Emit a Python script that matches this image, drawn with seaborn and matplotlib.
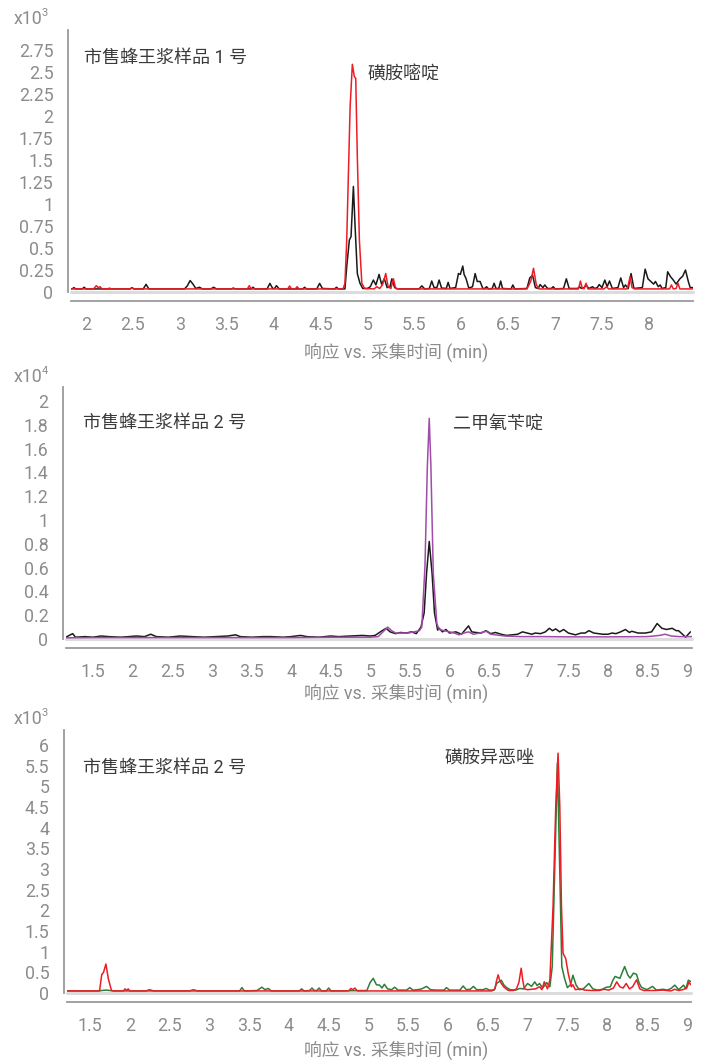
import matplotlib
matplotlib.use("Agg")
import matplotlib.pyplot as plt
import seaborn as sns
import pandas as pd

# ---- Panel 1: 磺胺嘧啶, intensity in 10^3 counts ----
p1_black = [(1.84, 0.035), (1.86, 0.04), (1.871, 0.05), (1.89, 0.035), (1.96, 0.035), (1.98, 0.054), (2.0, 0.035),
            (2.47, 0.035), (2.49, 0.05), (2.51, 0.035), (2.61, 0.035), (2.64, 0.087), (2.67, 0.035), (3.05, 0.035),
            (3.08, 0.07), (3.11, 0.13), (3.14, 0.09), (3.17, 0.04), (3.21, 0.054), (3.24, 0.035), (3.33, 0.035),
            (3.36, 0.054), (3.39, 0.035), (3.55, 0.035), (3.57, 0.045), (3.59, 0.035), (3.76, 0.035), (3.78, 0.054),
            (3.80, 0.035), (3.93, 0.035), (3.96, 0.098), (3.99, 0.04), (4.01, 0.04), (4.03, 0.072), (4.06, 0.035),
            (4.31, 0.035), (4.33, 0.054), (4.35, 0.035), (4.46, 0.035), (4.49, 0.098), (4.52, 0.04), (4.65, 0.035),
            (4.67, 0.054), (4.69, 0.035), (4.76, 0.035), (4.78, 0.30), (4.807, 0.59), (4.825, 0.63), (4.85, 1.2),
            (4.868, 0.75), (4.892, 0.21), (4.92, 0.10), (4.95, 0.04), (5.0, 0.04), (5.03, 0.06), (5.063, 0.136),
            (5.09, 0.08), (5.124, 0.2), (5.15, 0.09), (5.18, 0.15), (5.21, 0.05), (5.24, 0.06), (5.26, 0.15),
            (5.29, 0.05), (5.32, 0.035), (5.55, 0.035), (5.58, 0.07), (5.61, 0.035), (5.66, 0.04), (5.685, 0.125),
            (5.71, 0.05), (5.74, 0.05), (5.764, 0.136), (5.79, 0.045), (5.84, 0.04), (5.86, 0.11), (5.88, 0.04),
            (5.94, 0.05), (5.97, 0.21), (5.99, 0.2), (6.016, 0.295), (6.03, 0.2), (6.05, 0.155), (6.08, 0.045),
            (6.12, 0.06), (6.148, 0.21), (6.17, 0.12), (6.2, 0.12), (6.23, 0.04), (6.25, 0.04), (6.27, 0.06),
            (6.29, 0.035), (6.33, 0.04), (6.35, 0.1), (6.37, 0.04), (6.40, 0.04), (6.42, 0.125), (6.44, 0.04),
            (6.53, 0.035), (6.55, 0.08), (6.57, 0.035), (6.70, 0.04), (6.73, 0.16), (6.76, 0.19), (6.79, 0.05),
            (6.82, 0.04), (6.84, 0.085), (6.87, 0.05), (6.89, 0.08), (6.92, 0.04), (6.96, 0.04), (6.98, 0.06),
            (7.0, 0.035), (7.09, 0.04), (7.12, 0.15), (7.15, 0.04), (7.24, 0.04), (7.26, 0.06), (7.28, 0.04),
            (7.31, 0.05), (7.33, 0.08), (7.36, 0.04), (7.38, 0.05), (7.4, 0.06), (7.42, 0.04), (7.45, 0.05),
            (7.47, 0.085), (7.5, 0.05), (7.53, 0.136), (7.555, 0.06), (7.58, 0.125), (7.61, 0.04), (7.67, 0.05),
            (7.7, 0.16), (7.73, 0.05), (7.75, 0.08), (7.78, 0.04), (7.81, 0.21), (7.84, 0.04), (7.93, 0.05),
            (7.96, 0.26), (7.99, 0.15), (8.02, 0.12), (8.05, 0.09), (8.07, 0.12), (8.1, 0.06), (8.12, 0.08),
            (8.14, 0.04), (8.18, 0.05), (8.2, 0.23), (8.23, 0.175), (8.26, 0.136), (8.29, 0.09), (8.33, 0.15),
            (8.36, 0.18), (8.39, 0.25), (8.42, 0.12), (8.44, 0.05), (8.47, 0.05)]

p1_red = [(1.84, 0.035), (2.08, 0.035), (2.11, 0.072), (2.13, 0.05), (2.15, 0.06), (2.17, 0.035), (2.23, 0.035),
          (2.25, 0.045), (2.27, 0.035), (2.47, 0.035), (2.49, 0.045), (2.51, 0.035), (3.72, 0.035), (3.74, 0.072),
          (3.76, 0.035), (4.15, 0.035), (4.17, 0.068), (4.19, 0.035), (4.23, 0.035), (4.25, 0.06), (4.27, 0.035),
          (4.74, 0.035), (4.76, 0.10), (4.779, 0.59), (4.815, 2.1), (4.839, 2.59), (4.86, 2.45), (4.875, 2.43),
          (4.892, 1.54), (4.914, 0.59), (4.94, 0.10), (4.97, 0.04), (5.07, 0.035), (5.10, 0.06), (5.13, 0.04),
          (5.16, 0.08), (5.195, 0.21), (5.22, 0.06), (5.25, 0.04), (5.277, 0.15), (5.3, 0.04), (5.35, 0.035),
          (6.70, 0.035), (6.74, 0.12), (6.77, 0.27), (6.8, 0.08), (6.83, 0.035), (7.25, 0.035), (7.27, 0.125),
          (7.29, 0.04), (7.31, 0.04), (7.33, 0.1), (7.35, 0.035), (7.52, 0.035), (7.55, 0.06), (7.57, 0.035),
          (7.77, 0.035), (7.80, 0.175), (7.82, 0.05), (7.85, 0.035), (8.22, 0.035), (8.24, 0.08), (8.26, 0.035),
          (8.29, 0.04), (8.31, 0.1), (8.33, 0.035), (8.47, 0.035)]

# ---- Panel 2: 二甲氧苄啶, intensity in 10^4 counts ----
p2_black = [(1.16, 0.015), (1.2, 0.03), (1.244, 0.045), (1.28, 0.015), (1.4, 0.02), (1.5, 0.015), (1.6, 0.025),
            (1.7, 0.02), (1.85, 0.015), (1.95, 0.02), (2.05, 0.025), (2.15, 0.02), (2.23, 0.04), (2.3, 0.02),
            (2.45, 0.015), (2.6, 0.025), (2.75, 0.02), (2.9, 0.015), (3.05, 0.02), (3.2, 0.025), (3.3, 0.035),
            (3.36, 0.02), (3.5, 0.015), (3.65, 0.02), (3.75, 0.02), (3.9, 0.015), (4.0, 0.02), (4.12, 0.03),
            (4.2, 0.02), (4.35, 0.015), (4.5, 0.025), (4.6, 0.02), (4.75, 0.025), (4.9, 0.03), (5.0, 0.025),
            (5.06, 0.03), (5.15, 0.07), (5.2, 0.09), (5.25, 0.06), (5.32, 0.045), (5.38, 0.055), (5.45, 0.05),
            (5.52, 0.06), (5.58, 0.045), (5.64, 0.10), (5.68, 0.22), (5.71, 0.55), (5.744, 0.82), (5.78, 0.55),
            (5.81, 0.22), (5.85, 0.075), (5.87, 0.09), (5.91, 0.06), (5.955, 0.08), (6.0, 0.05), (6.08, 0.06),
            (6.15, 0.04), (6.24, 0.11), (6.28, 0.06), (6.33, 0.055), (6.4, 0.05), (6.46, 0.07), (6.52, 0.045),
            (6.58, 0.055), (6.65, 0.04), (6.72, 0.03), (6.79, 0.035), (6.86, 0.04), (6.92, 0.06), (6.98, 0.05),
            (7.04, 0.04), (7.08, 0.05), (7.15, 0.045), (7.21, 0.06), (7.26, 0.09), (7.3, 0.07), (7.34, 0.085),
            (7.39, 0.06), (7.44, 0.08), (7.5, 0.05), (7.59, 0.035), (7.66, 0.05), (7.71, 0.05), (7.76, 0.07),
            (7.82, 0.05), (7.88, 0.045), (7.93, 0.04), (8.0, 0.04), (8.05, 0.05), (8.1, 0.045), (8.16, 0.06),
            (8.22, 0.08), (8.27, 0.055), (8.3, 0.065), (8.38, 0.05), (8.47, 0.05), (8.55, 0.06), (8.62, 0.13),
            (8.68, 0.09), (8.74, 0.08), (8.81, 0.09), (8.86, 0.07), (8.89, 0.07), (8.94, 0.04), (8.98, 0.015),
            (9.04, 0.06)]

p2_purple = [(1.16, 0.01), (1.5, 0.012), (2.0, 0.012), (2.5, 0.012), (3.0, 0.012), (3.5, 0.012), (4.0, 0.012),
             (4.5, 0.015), (5.0, 0.015), (5.1, 0.02), (5.16, 0.06), (5.22, 0.10), (5.27, 0.07), (5.32, 0.05),
             (5.4, 0.05), (5.48, 0.05), (5.55, 0.06), (5.62, 0.07), (5.65, 0.10), (5.69, 0.61), (5.72, 1.45),
             (5.744, 1.855), (5.765, 1.45), (5.795, 0.55), (5.84, 0.13), (5.87, 0.08), (5.93, 0.07), (6.0, 0.06),
             (6.06, 0.05), (6.12, 0.035), (6.18, 0.05), (6.24, 0.06), (6.3, 0.04), (6.38, 0.05), (6.46, 0.065),
             (6.52, 0.04), (6.58, 0.035), (6.7, 0.025), (6.9, 0.02), (7.2, 0.02), (7.5, 0.018), (8.0, 0.018),
             (8.5, 0.02), (8.65, 0.03), (8.72, 0.04), (8.8, 0.025), (8.9, 0.02), (9.06, 0.02)]

# ---- Panel 3: 磺胺异恶唑, intensity in 10^3 counts ----
p3_green = [(1.21, 0.05), (1.6, 0.05), (1.7, 0.07), (1.8, 0.05), (2.2, 0.05), (2.25, 0.08), (2.3, 0.05),
            (2.75, 0.05), (2.8, 0.08), (2.85, 0.05), (3.38, 0.05), (3.41, 0.13), (3.44, 0.05), (3.6, 0.06),
            (3.63, 0.1), (3.66, 0.14), (3.7, 0.08), (3.74, 0.11), (3.78, 0.05), (4.13, 0.05), (4.16, 0.1),
            (4.19, 0.05), (4.26, 0.06), (4.29, 0.12), (4.32, 0.06), (4.35, 0.06), (4.38, 0.12), (4.41, 0.05),
            (4.47, 0.05), (4.5, 0.12), (4.53, 0.05), (4.98, 0.06), (5.02, 0.25), (5.06, 0.355), (5.1, 0.2),
            (5.14, 0.19), (5.17, 0.12), (5.2, 0.21), (5.24, 0.1), (5.29, 0.08), (5.33, 0.14), (5.37, 0.07),
            (5.48, 0.07), (5.52, 0.13), (5.56, 0.07), (5.62, 0.08), (5.67, 0.1), (5.73, 0.16), (5.78, 0.08),
            (5.85, 0.07), (5.95, 0.07), (5.98, 0.13), (6.02, 0.07), (6.15, 0.07), (6.19, 0.17), (6.23, 0.08),
            (6.28, 0.09), (6.32, 0.16), (6.36, 0.08), (6.44, 0.08), (6.48, 0.11), (6.52, 0.07), (6.58, 0.07),
            (6.61, 0.23), (6.67, 0.31), (6.7, 0.2), (6.73, 0.14), (6.78, 0.08), (6.85, 0.07), (6.9, 0.11),
            (6.95, 0.1), (7.0, 0.23), (7.05, 0.16), (7.09, 0.27), (7.12, 0.18), (7.15, 0.23), (7.19, 0.12),
            (7.24, 0.25), (7.28, 0.15), (7.31, 0.64), (7.34, 2.9), (7.375, 5.56), (7.405, 2.9), (7.43, 0.64),
            (7.465, 0.35), (7.5, 0.13), (7.54, 0.2), (7.57, 0.43), (7.61, 0.19), (7.65, 0.08), (7.7, 0.1),
            (7.77, 0.23), (7.82, 0.1), (7.88, 0.07), (7.94, 0.09), (7.99, 0.14), (8.04, 0.15), (8.07, 0.3),
            (8.1, 0.4), (8.16, 0.355), (8.22, 0.64), (8.26, 0.435), (8.29, 0.36), (8.33, 0.48), (8.37, 0.45),
            (8.4, 0.25), (8.43, 0.14), (8.5, 0.08), (8.57, 0.16), (8.62, 0.07), (8.7, 0.09), (8.76, 0.07),
            (8.81, 0.12), (8.85, 0.19), (8.9, 0.08), (8.96, 0.19), (8.99, 0.1), (9.02, 0.31), (9.05, 0.28)]

p3_red = [(1.21, 0.05), (1.62, 0.05), (1.647, 0.44), (1.67, 0.5), (1.70, 0.70), (1.73, 0.35), (1.77, 0.06),
          (1.8, 0.05), (1.92, 0.05), (1.94, 0.1), (1.96, 0.06), (1.98, 0.1), (2.0, 0.05), (4.75, 0.05),
          (4.78, 0.11), (4.8, 0.08), (4.83, 0.12), (4.86, 0.05), (5.5, 0.05), (6.55, 0.05), (6.59, 0.1),
          (6.61, 0.3), (6.63, 0.44), (6.65, 0.3), (6.67, 0.23), (6.7, 0.15), (6.73, 0.1), (6.76, 0.06),
          (6.82, 0.06), (6.86, 0.1), (6.89, 0.25), (6.92, 0.6), (6.94, 0.3), (6.96, 0.1), (7.0, 0.08),
          (7.05, 0.09), (7.1, 0.1), (7.15, 0.15), (7.18, 0.08), (7.21, 0.27), (7.25, 0.1), (7.28, 0.31),
          (7.32, 2.09), (7.354, 4.51), (7.383, 5.8), (7.405, 4.51), (7.426, 2.09), (7.446, 0.96), (7.48, 0.83),
          (7.51, 0.48), (7.55, 0.15), (7.57, 0.2), (7.6, 0.08), (7.66, 0.1), (7.72, 0.07), (7.8, 0.06),
          (7.9, 0.06), (7.96, 0.09), (8.02, 0.07), (8.08, 0.12), (8.12, 0.27), (8.16, 0.15), (8.2, 0.12),
          (8.24, 0.23), (8.28, 0.1), (8.32, 0.15), (8.37, 0.32), (8.41, 0.1), (8.46, 0.06), (8.6, 0.06),
          (8.7, 0.07), (8.8, 0.05), (8.85, 0.09), (8.9, 0.06), (8.95, 0.08), (9.0, 0.12), (9.03, 0.27),
          (9.05, 0.2)]

# Tick positions and labels
p1_yticks = [0, 0.25, 0.5, 0.75, 1, 1.25, 1.5, 1.75, 2, 2.25, 2.5, 2.75]
p1_xticks = [2, 2.5, 3, 3.5, 4, 4.5, 5, 5.5, 6, 6.5, 7, 7.5, 8]
p2_yticks = [0, 0.2, 0.4, 0.6, 0.8, 1, 1.2, 1.4, 1.6, 1.8, 2]
p3_yticks = [0, 0.5, 1, 1.5, 2, 2.5, 3, 3.5, 4, 4.5, 5, 5.5, 6]
p23_xticks = [1.5, 2, 2.5, 3, 3.5, 4, 4.5, 5, 5.5, 6, 6.5, 7, 7.5, 8, 8.5, 9]

sample_labels = ["市售蜂王浆样品 1 号", "市售蜂王浆样品 2 号", "市售蜂王浆样品 2 号"]
compound_labels = ["磺胺嘧啶", "二甲氧苄啶", "磺胺异恶唑"]
scale_exponents = ["3", "4", "3"]
x_label = "响应 vs. 采集时间 (min)"

sns.set_theme(style="white")
plt.rcParams["font.family"] = ["Roboto", "Noto Sans CJK SC", "DejaVu Sans"]

W, H = 707, 1061
fig = plt.figure(figsize=(W / 100, H / 100), dpi=100)

GRAY = "#8c8c8c"
TEXT = "#3a3a3a"
RED = "#ee1c25"
BLACK = "#1a1a1a"
PURPLE = "#a04ca8"
GREEN = "#2b7f38"


def px_axes(left, right, top, bottom):
    return fig.add_axes([left / W, 1 - bottom / H, (right - left) / W, (bottom - top) / H])


def fmt(v):
    return f"{v:g}"


def draw_trace(ax, pts, color):
    df = pd.DataFrame(pts, columns=["time", "resp"])
    sns.lineplot(data=df, x="time", y="resp", ax=ax, color=color, lw=1.1,
                 sort=False, estimator=None, zorder=3)


panels = [
    dict(box=(71, 693, 30, 292), xlim=(1.84, 8.47), ylim=(0, 2.98),
         xt=p1_xticks, yt=p1_yticks, traces=[(p1_black, BLACK), (p1_red, RED)],
         scale_y=24, sample_xy=(84, 58), comp_xy=(368, 75), xlabel_y=352),
    dict(box=(66, 692, 387, 639), xlim=(1.16, 9.06), ylim=(0, 2.118),
         xt=p23_xticks, yt=p2_yticks, traces=[(p2_black, BLACK), (p2_purple, PURPLE)],
         scale_y=382, sample_xy=(83, 423), comp_xy=(453, 424), xlabel_y=693),
    dict(box=(67, 691, 730, 993), xlim=(1.211, 9.054), ylim=(0, 6.36),
         xt=p23_xticks, yt=p3_yticks, traces=[(p3_green, GREEN), (p3_red, RED)],
         scale_y=724, sample_xy=(83, 768), comp_xy=(445, 758), xlabel_y=1050),
]

for i, p in enumerate(panels):
    ax = px_axes(*p["box"])
    ax.set_facecolor("none")
    ax.axhline(0, color="#dcdcdc", lw=2.2, zorder=1, clip_on=False)
    for pts, col in p["traces"]:
        draw_trace(ax, pts, col)
    ax.set_xlim(*p["xlim"])
    ax.set_ylim(*p["ylim"])
    ax.set_xticks(p["xt"])
    ax.set_xticklabels([fmt(v) for v in p["xt"]])
    ax.set_yticks(p["yt"])
    ax.set_yticklabels([fmt(v) for v in p["yt"]])
    ax.set_xlabel("")
    ax.set_ylabel("")
    sns.despine(ax=ax, offset={"left": 2.2, "bottom": 6.8})
    for side in ("left", "bottom"):
        ax.spines[side].set_color("#9a9a9a")
        ax.spines[side].set_linewidth(1.3)
    ax.tick_params(axis="both", direction="out", colors="#9a9a9a", labelcolor=GRAY,
                   labelsize=12.8, length=5.5, width=1.2)
    ax.tick_params(axis="y", pad=5)
    ax.tick_params(axis="x", pad=5)

    # multiplier label: "x10" with a small raised exponent
    t = fig.text(14 / W, 1 - p["scale_y"] / H, "x10", color=GRAY, fontsize=12.8,
                 ha="left", va="baseline")
    fig.canvas.draw()
    bb = t.get_window_extent()
    fig.text((bb.x1 - 1.5) / W, 1 - (p["scale_y"] - 8) / H, scale_exponents[i], color=GRAY,
             fontsize=8, ha="left", va="baseline")

    fig.text(p["sample_xy"][0] / W, 1 - p["sample_xy"][1] / H, sample_labels[i], color=TEXT,
             fontsize=13, ha="left", va="center")
    fig.text(p["comp_xy"][0] / W, 1 - p["comp_xy"][1] / H, compound_labels[i], color=TEXT,
             fontsize=13, ha="left", va="center")
    fig.text(396 / W, 1 - p["xlabel_y"] / H, x_label, color=GRAY, fontsize=12.8,
             ha="center", va="center")

fig.savefig("out.png", dpi=100)
